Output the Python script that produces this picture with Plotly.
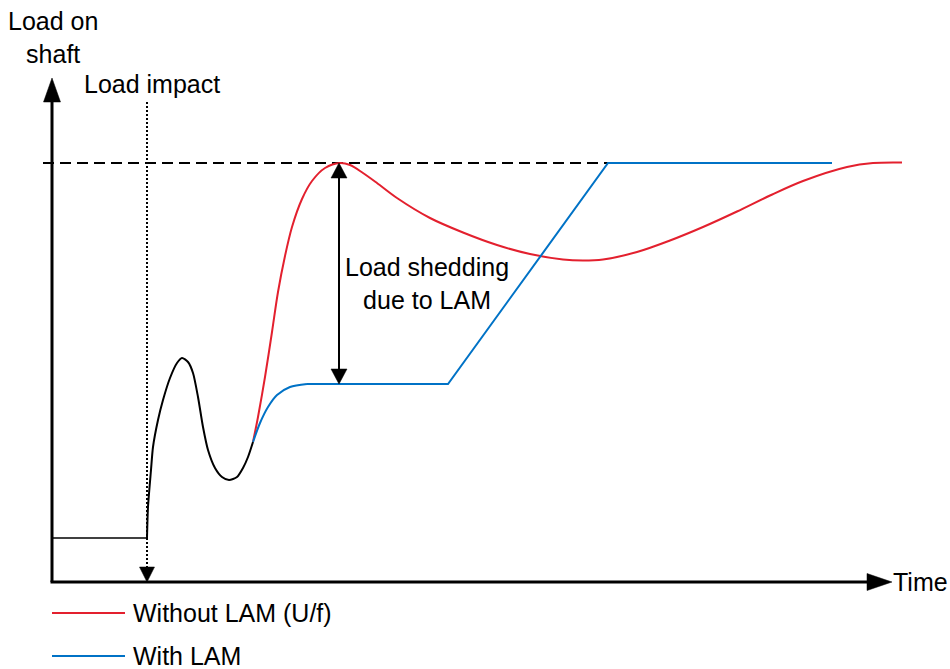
import plotly.graph_objects as go

# ---------------- data (time units / load units, origin at the axes corner) ----------------
pre_t = [0, 95]
pre_load = [44, 44]

black_t = [95, 96, 99, 101, 106, 111, 118, 125, 130, 136, 141, 146, 151, 156, 163, 170, 177, 185, 191, 196, 201]
black_load = [44, 75, 112, 135, 162, 182, 204, 219, 224, 220, 209, 185, 155, 132, 114, 105, 102, 105, 114, 125, 140]

red_t = [201, 206, 213, 220, 226, 233, 240, 250, 260, 273, 288, 298, 311, 325, 345, 378, 411,
         445, 478, 511, 531, 551, 585, 618, 651, 685, 718, 751, 795, 821, 850]
red_load = [140, 165, 205, 250, 290, 326, 355, 383, 401, 414, 419, 417, 409, 399, 384, 364, 349.5,
            337, 328, 322.5, 321.5, 322.5, 330, 341.5, 355, 370.5, 386.5, 401, 415, 419, 419.5]

blue_curve_t = [201, 208, 216, 225, 238, 255]
blue_curve_load = [140, 159, 175, 187, 195, 198]
blue_ramp_t = [255, 396, 556, 780]
blue_ramp_load = [198, 198, 419, 419]

target_load = 419
target_t = [-9, 780]
impact_t = 95
lam_t = 287
lam_range = [419, 198]

legend_names = ["Without LAM (U/f)", "With LAM"]
red = "#E3202E"
blue = "#0072C6"
FONT = "Liberation Sans, Arial, sans-serif"
FS = 25

fig = go.Figure()

# dashed target level
fig.add_trace(go.Scatter(x=target_t, y=[target_load, target_load], mode="lines",
                         line=dict(color="black", width=2, dash="11px,6px"), hoverinfo="skip",
                         showlegend=False))

fig.add_trace(go.Scatter(x=pre_t, y=pre_load, mode="lines", line=dict(color="black", width=1.6),
                         showlegend=False))
fig.add_trace(go.Scatter(x=red_t, y=red_load, mode="lines", line=dict(color=red, width=2, shape="spline", smoothing=0.9),
                         name=legend_names[0], showlegend=False))
fig.add_trace(go.Scatter(x=blue_curve_t, y=blue_curve_load, mode="lines",
                         line=dict(color=blue, width=2, shape="spline", smoothing=0.8), showlegend=False))
fig.add_trace(go.Scatter(x=blue_ramp_t, y=blue_ramp_load, mode="lines", line=dict(color=blue, width=2),
                         name=legend_names[1], showlegend=False))
fig.add_trace(go.Scatter(x=black_t, y=black_load, mode="lines",
                         line=dict(color="black", width=2, shape="spline", smoothing=0.7), showlegend=False))

# legend drawn manually
leg_y = [-31, -74]
for (c, name, ly) in zip([red, blue], legend_names, leg_y):
    fig.add_trace(go.Scatter(x=[0, 73], y=[ly, ly], mode="lines", line=dict(color=c, width=2), showlegend=False))

shapes = []
annotations = []


def tri(tx, ty, dx, dy, length, width):
    bx, by = tx - dx * length, ty - dy * length
    px, py = -dy * width / 2, dx * width / 2
    return dict(type="path", xref="x", yref="y",
                path=f"M{tx},{ty} L{bx+px},{by+py} L{bx-px},{by-py} Z",
                fillcolor="black", line=dict(color="black", width=0.5))


# axes
shapes.append(dict(type="line", xref="x", yref="y", x0=0, y0=0, x1=0, y1=484, line=dict(color="black", width=3)))
shapes.append(tri(0, 504, 0, 1, 24, 17))
shapes.append(dict(type="line", xref="x", yref="y", x0=-1.5, y0=0, x1=818, y1=0, line=dict(color="black", width=3)))
shapes.append(tri(840, 0, 1, 0, 25, 17))

# load impact dotted arrow
shapes.append(dict(type="line", xref="x", yref="y", x0=impact_t, y0=480, x1=impact_t, y1=14,
                   line=dict(color="black", width=2, dash="2px,2px")))
shapes.append(tri(impact_t, 0, 0, -1, 15, 15))

# load shedding double arrow
shapes.append(dict(type="line", xref="x", yref="y", x0=lam_t, y0=lam_range[0] - 12, x1=lam_t, y1=lam_range[1] + 12,
                   line=dict(color="black", width=2)))
shapes.append(tri(lam_t, lam_range[0], 0, 1, 15, 16))
shapes.append(tri(lam_t, lam_range[1], 0, -1, 15, 16))


def txt(x, y, s, xanchor="left", align="left"):
    annotations.append(dict(x=x, y=y, xref="x", yref="y", text=s, showarrow=False, xanchor=xanchor,
                            yanchor="middle", align=align, font=dict(family=FONT, size=FS, color="black")))


txt(1, 545, "Load on<br>shaft", xanchor="center", align="center")
txt(30, 498, "Load impact")
txt(375, 299, "Load shedding<br>due to LAM", xanchor="center", align="center")
txt(839, 0, "Time")
for name, ly in zip(legend_names, leg_y):
    txt(79, ly, name)

fig.update_layout(
    width=950, height=669, margin=dict(l=0, r=0, t=0, b=0),
    paper_bgcolor="white", plot_bgcolor="white",
    xaxis=dict(range=[-52, 898], visible=False, showgrid=False, zeroline=False, fixedrange=True),
    yaxis=dict(range=[-87, 582], visible=False, showgrid=False, zeroline=False, fixedrange=True),
    shapes=shapes, annotations=annotations, showlegend=False,
    font=dict(family=FONT),
)

fig.write_html("out.html", config={"displayModeBar": False},
               post_script="document.body.style.margin='0';")
